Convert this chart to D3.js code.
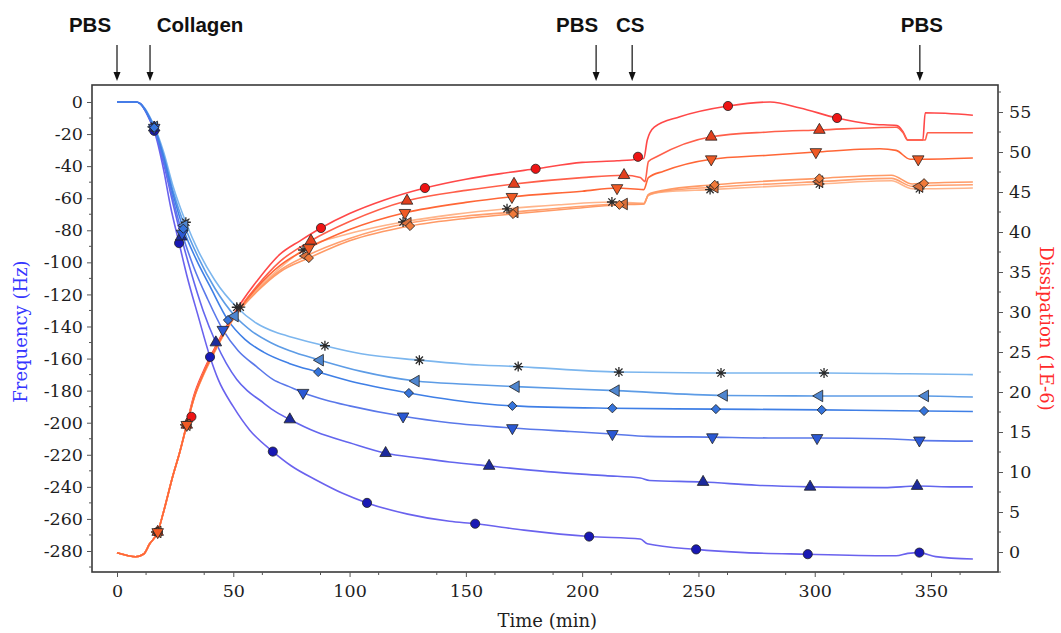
<!DOCTYPE html>
<html><head><meta charset="utf-8">
<script src="https://cdn.jsdelivr.net/npm/d3@7"></script>
<style>body{margin:0;background:#fff}svg{display:block}</style>
</head><body><svg id="c" width="1061" height="633"></svg>
<script>
// ---------------- DATA ----------------
const timeTicks = [0, 50, 100, 150, 200, 250, 300, 350];
const freqTicks = [0, -20, -40, -60, -80, -100, -120, -140, -160, -180, -200, -220, -240, -260, -280];
const dissTicks = [0, 5, 10, 15, 20, 25, 30, 35, 40, 45, 50, 55];

const eventLabels = ["PBS", "Collagen", "PBS", "CS", "PBS"];
const eventTimes = [0, 14.2, 206, 221.5, 345.2];

// Frequency (Hz) vs time (min)
const freqCircle = [[0,0],[8,0],[10,-1],[12,-5],[14,-11],[16,-18],[20,-42],[23,-65],[26.7,-88],[30,-108],[35,-134],[40,-159],[43.5,-173],[50,-190],[57,-204.5],[67,-218],[75,-227],[86,-236],[97,-244],[107.5,-250],[125,-257],[143,-261.5],[154,-263],[175,-267],[203,-271],[225,-272.5],[228,-275.5],[249,-279],[270,-281],[297,-282],[335,-283],[340,-281.5],[345,-281],[352,-283.5],[368,-285]];
const freqTriUp = [[0,0],[8,0],[10,-1],[12,-5],[14,-10.5],[16,-17],[20,-38],[24,-63],[27.6,-84],[32,-107],[37,-130],[42.5,-150],[47,-163],[51.5,-173],[56,-180],[61.5,-186],[67,-192],[74.3,-198],[86,-206],[100,-212.5],[115.5,-219],[130,-222],[143,-224.5],[160,-227],[185,-230.5],[210,-233],[225,-234.5],[229,-236],[252,-237],[275,-239],[298,-240],[330,-240.5],[344,-239.5],[360,-240],[368,-240]];
const freqTriDown = [[0,0],[8,0],[10,-1],[12,-5],[14,-10],[16,-16.5],[20,-36],[24,-60],[28,-82],[33,-103],[39,-123],[45.5,-142],[52,-155],[60,-165],[67,-173],[74,-177.5],[80,-181.3],[90,-186],[100,-189.5],[123,-196],[143,-200],[170,-203.3],[195,-205.5],[213,-207],[228,-208.5],[256,-209],[280,-209.5],[301,-209.5],[330,-210],[345,-211],[368,-211.5]];
const freqDiamond = [[0,0],[8,0],[10,-1],[12,-4.5],[14,-10],[16,-16],[20,-34],[24,-57],[28.5,-79],[34,-98],[40,-115],[47.7,-136],[55,-148],[63,-156],[74,-163],[86.5,-168.4],[100,-174],[125.5,-181.5],[145,-186],[170,-189.5],[213,-191],[257.5,-191.5],[303,-192],[347,-192.7],[368,-193]];
const freqTriLeft = [[0,0],[8,0],[10,-1],[12,-4.5],[14,-9.5],[16,-15.5],[20,-33],[24,-55],[29,-77],[35,-97],[42,-116],[50.7,-133.5],[58,-143],[66,-150],[74,-155],[87.3,-161],[105,-168],[128.5,-174],[150,-176],[171.5,-177.5],[214.5,-180],[261,-183],[302,-183.3],[347.5,-183.3],[368,-184]];
const freqStar = [[0,0],[8,0],[10,-1],[12,-4],[14,-9],[16,-15],[20,-31],[24,-52],[29.6,-75],[35,-93],[42,-111],[51.5,-128],[60,-138],[68,-143.5],[76,-147],[89.4,-152],[105,-157],[130,-161],[150,-163.5],[172.5,-165],[215.8,-168.4],[259.7,-169],[304,-169],[340,-169.5],[368,-170]];

const freqCircleMarks = [[16,-18],[26.7,-88],[40,-159],[67,-218],[107.5,-250],[154,-263],[203,-271],[249,-279],[297,-282],[345,-281]];
const freqTriUpMarks = [[16,-16],[27.6,-84],[42.5,-150],[74.3,-198],[115.5,-219],[160,-227],[252,-237],[298,-240],[344,-239.5]];
const freqTriDownMarks = [[16,-16],[28,-82],[45.5,-142],[80,-181.3],[123,-196],[170,-203.3],[213,-207],[256,-209],[301,-209.5],[345,-211]];
const freqDiamondMarks = [[16,-16],[28.5,-79],[47.7,-136],[86.5,-168.4],[125.5,-181.5],[170,-189.5],[213,-191],[257.5,-191.5],[303,-192],[347,-192.7]];
const freqTriLeftMarks = [[16,-15.5],[29,-77],[50.7,-133.5],[87.3,-161],[128.5,-174],[171.5,-177.5],[214.5,-180],[261,-183],[302,-183.3],[347.5,-183.3]];
const freqStarMarks = [[16,-15],[29.6,-75],[51.5,-128],[89.4,-152],[130,-161],[172.5,-165],[215.8,-168.4],[259.7,-169],[304,-169]];

// Dissipation (1E-6) vs time (min)
const dissCircle = [[0,-0.1],[4,-0.4],[8,-0.6],[11.5,-0.25],[14,1],[17.5,2.5],[20,5],[24,9.5],[27,12.5],[30,16],[33,19.5],[37,22.5],[42,25.5],[47,28.2],[53,31],[60,33.8],[70,37.2],[78.7,38.9],[87.7,40.5],[100,42.3],[115,44],[132.4,45.5],[150,46.6],[165,47.3],[180,47.9],[200,48.7],[215,48.9],[224,49.1],[226.5,49.2],[228,51.5],[231,53.1],[242,54.4],[262.7,55.75],[280.8,56.25],[293.7,55.5],[309.6,54.25],[323.8,53.5],[335.4,53.3],[338,52.5],[340,51.5],[346.5,51.5],[347.5,54.9],[368,54.6]];
const dissTriUp = [[0,-0.1],[4,-0.4],[8,-0.6],[11.5,-0.25],[14,1],[17.5,2.5],[20,5],[24,9.5],[27,12.5],[30,15.9],[33,19.3],[37,22.3],[42,25.3],[47,28],[53,30.6],[60,33.2],[70,36.3],[83.4,38.9],[100,41.3],[124.7,43.9],[150,45.2],[170.7,46],[200,46.8],[218,47.1],[225,46.8],[227,46.3],[228.5,48.8],[232,49.4],[255.5,51.9],[280,52.5],[302,52.75],[335,53.1],[338,52.4],[340,51.5],[347.5,51.5],[348.5,52.4],[368,52.4]];
const dissTriDown = [[0,-0.1],[4,-0.4],[8,-0.6],[11.5,-0.25],[14,1],[17.5,2.5],[20,5],[24,9.5],[27,12.5],[30,15.9],[33,19.2],[37,22.2],[42,25.2],[47,27.9],[53,30.5],[60,33],[70,35.8],[82.5,38],[100,40.3],[123.8,42.4],[150,43.7],[169.8,44.4],[200,45.1],[215,45.5],[226.5,45.3],[228.5,46.8],[235,47.6],[255.5,49.1],[280,49.6],[300.5,50],[328,50.4],[335,50.2],[341,49.1],[344.5,49.1],[368,49.25]];
const dissDiamond = [[0,-0.1],[4,-0.4],[8,-0.6],[11.5,-0.25],[14,1],[17.5,2.5],[20,5],[24,9.5],[27,12.5],[30,15.9],[33,19.1],[37,22],[42,25],[47,27.7],[53,30.3],[60,32.5],[70,35],[82.5,36.75],[100,38.9],[126,40.75],[150,41.7],[170.3,42.25],[195,42.9],[216,43.4],[226.5,43.5],[228.5,44.7],[235,45.2],[257,45.9],[302,46.7],[333,47.1],[342,46],[347,46.1],[368,46.25]];
const dissTriLeft = [[0,-0.1],[4,-0.4],[8,-0.6],[11.5,-0.25],[14,1],[17.5,2.5],[20,5],[24,9.5],[27,12.5],[30,15.9],[33,19.1],[37,22.1],[42,25.1],[47,27.8],[53,30.4],[60,32.6],[70,35.2],[81.3,37],[100,39.2],[125,41.1],[150,42],[171,42.5],[195,43.1],[218,43.5],[226.5,43.5],[228.5,44.6],[235,45.1],[257,45.6],[302,46.3],[333,46.7],[342,45.7],[347,45.8],[368,45.9]];
const dissStar = [[0,-0.1],[4,-0.4],[8,-0.6],[11.5,-0.25],[14,1],[17.5,2.5],[20,5],[24,9.5],[27,12.5],[30,15.9],[33,19.2],[37,22.2],[42,25.2],[47,28],[53,30.6],[60,32.8],[70,35.5],[80,37.75],[100,39.8],[123,41.25],[145,42.2],[167.7,42.9],[190,43.4],[212.8,43.75],[226.5,43.6],[228.5,44.6],[235,45],[255,45.3],[302,46],[333,46.4],[342,45.4],[345,45.4],[368,45.5]];

const dissCircleMarks = [[17.5,2.5],[32,16.9],[87.7,40.5],[132.4,45.5],[180,47.9],[224,49.4],[262.7,55.75],[309.6,54.25]];
const dissTriUpMarks = [[17.5,2.5],[30,15.9],[83.4,38.9],[124.7,43.9],[170.7,46],[218,47.1],[255.5,51.9],[302,52.75]];
const dissTriDownMarks = [[17.5,2.5],[30,15.9],[82.5,38],[123.8,42.4],[169.8,44.4],[215,45.5],[255.5,49.1],[300.5,50],[344.5,49.1]];
const dissDiamondMarks = [[17.5,2.5],[30,15.9],[82.5,36.75],[126,40.75],[170.3,42.25],[216,43.4],[257,45.9],[302,46.7],[347,46.1]];
const dissTriLeftMarks = [[17.5,2.5],[30,15.9],[81.3,37],[125,41.1],[171,42.5],[218,43.5],[257,45.6],[302,46.3],[345,45.7]];
const dissStarMarks = [[17.5,2.5],[30,15.9],[53,30.6],[80,37.75],[123,41.25],[167.7,42.9],[212.8,43.75],[255,45.3],[302,46],[345,45.4]];

// ---------------- LAYOUT / STYLE ----------------
const L = 92, R = 998, T = 85, B = 572;
const svg = d3.select("#c");

const x = d3.scaleLinear().domain([-10.75, 378.8]).range([L, R]);
const yF = d3.scaleLinear().domain([-293.1, 10.6]).range([B, T]);
const yD = d3.scaleLinear().domain([-2.5, 58.375]).range([B, T]);

const serif = "'DejaVu Serif', serif";
const sans = "'Liberation Sans', Arial, sans-serif";

const symTri = d3.symbol().type(d3.symbolTriangle).size(58)();
const symCirc = d3.symbol().type(d3.symbolCircle).size(66)();
const symSq = d3.symbol().type(d3.symbolSquare).size(42)();
const starPath = "M-5,0H5M0,-5V5M-3.6,-3.6L3.6,3.6M-3.6,3.6L3.6,-3.6";

const shapes = {
  circle: {d: symCirc, rot: 0},
  up: {d: symTri, rot: 0},
  down: {d: symTri, rot: 180},
  diamond: {d: symSq, rot: 45},
  left: {d: symTri, rot: -90},
  star: {d: starPath, rot: 0, stroke: true}
};

// drawing order chosen so overlapped early segments show the mid-tone colour
const freqSeries = [
  {data: freqStar, marks: freqStarMarks, shape: "star", line: "#7cb6ee", fill: "#333"},
  {data: freqTriLeft, marks: freqTriLeftMarks, shape: "left", line: "#5d9ce6", fill: "#4f86d0"},
  {data: freqCircle, marks: freqCircleMarks, shape: "circle", line: "#6a62ee", fill: "#1818b4"},
  {data: freqTriUp, marks: freqTriUpMarks, shape: "up", line: "#6366ee", fill: "#1c2a9c"},
  {data: freqTriDown, marks: freqTriDownMarks, shape: "down", line: "#5a78ea", fill: "#2a58d4"},
  {data: freqDiamond, marks: freqDiamondMarks, shape: "diamond", line: "#3f7fe6", fill: "#3574dc"}
];
const dissSeries = [
  {data: dissCircle, marks: dissCircleMarks, shape: "circle", line: "#ff4848", fill: "#ee1414"},
  {data: dissTriUp, marks: dissTriUpMarks, shape: "up", line: "#ff5f4a", fill: "#e2401e"},
  {data: dissStar, marks: dissStarMarks, shape: "star", line: "#ffb48a", fill: "#333"},
  {data: dissTriLeft, marks: dissTriLeftMarks, shape: "left", line: "#ffa070", fill: "#d8703c"},
  {data: dissDiamond, marks: dissDiamondMarks, shape: "diamond", line: "#ff9a66", fill: "#f07a3a"},
  {data: dissTriDown, marks: dissTriDownMarks, shape: "down", line: "#ff6636", fill: "#f05a24"}
];

// ---------------- LINES ----------------
const gLines = svg.append("g");
const lineF = d3.line().x(d => x(d[0])).y(d => yF(d[1])).curve(d3.curveMonotoneX);
const lineD = d3.line().x(d => x(d[0])).y(d => yD(d[1])).curve(d3.curveMonotoneX);

freqSeries.forEach(s => {
  gLines.append("path").attr("d", lineF(s.data)).attr("fill", "none")
    .attr("stroke", s.line).attr("stroke-width", 1.6);
});
dissSeries.forEach(s => {
  gLines.append("path").attr("d", lineD(s.data)).attr("fill", "none")
    .attr("stroke", s.line).attr("stroke-width", 1.6);
});

// ---------------- MARKERS ----------------
function drawMarks(series, yScale) {
  series.forEach(s => {
    const sh = shapes[s.shape];
    svg.append("g").selectAll("path").data(s.marks).join("path")
      .attr("d", sh.d)
      .attr("transform", d => `translate(${x(d[0])},${yScale(d[1])}) rotate(${sh.rot})`)
      .attr("fill", sh.stroke ? "none" : s.fill)
      .attr("stroke", sh.stroke ? "#2a2a2a" : "#222")
      .attr("stroke-width", sh.stroke ? 1.3 : 0.8);
  });
}
drawMarks(freqSeries, yF);
drawMarks(dissSeries, yD);

// ---------------- FRAME & AXES ----------------
svg.append("rect").attr("x", L).attr("y", T).attr("width", R - L).attr("height", B - T)
  .attr("fill", "none").attr("stroke", "#3a3a3a").attr("stroke-width", 1.6);

function minorTicks(g, positions, orient, len) {
  g.selectAll("line.m").data(positions).join("line").attr("class", "m")
    .attr("stroke", "#555").attr("stroke-width", 1)
    .each(function(p) {
      const el = d3.select(this);
      if (orient === "left") el.attr("x1", L).attr("x2", L - len).attr("y1", p).attr("y2", p);
      if (orient === "right") el.attr("x1", R).attr("x2", R + len).attr("y1", p).attr("y2", p);
      if (orient === "bottom") el.attr("y1", B).attr("y2", B + len).attr("x1", p).attr("x2", p);
    });
}

const axL = svg.append("g").attr("transform", `translate(${L},0)`)
  .call(d3.axisLeft(yF).tickValues(freqTicks).tickFormat(d => String(d)).tickSize(5).tickPadding(4));
const axB = svg.append("g").attr("transform", `translate(0,${B})`)
  .call(d3.axisBottom(x).tickValues(timeTicks).tickFormat(d => String(d)).tickSize(5).tickPadding(8));
const axR = svg.append("g").attr("transform", `translate(${R},0)`)
  .call(d3.axisRight(yD).tickValues(dissTicks).tickFormat(d => String(d)).tickSize(5).tickPadding(6));

[axL, axB, axR].forEach(a => {
  a.select(".domain").remove();
  a.selectAll(".tick line").attr("stroke", "#555");
  a.selectAll("text").attr("font-family", serif).attr("font-size", 17.5).attr("fill", "#1e1e1e");
});

const mg = svg.append("g");
minorTicks(mg.append("g"), d3.range(-290, 10, 10).filter(v => v % 20 !== 0).map(v => yF(v)), "left", 3);
minorTicks(mg.append("g"), d3.range(12.5, 378, 25).map(v => x(v)), "bottom", 3);
minorTicks(mg.append("g"), d3.range(-2.5, 58, 5).map(v => yD(v)), "right", 3);

// axis titles
svg.append("text").attr("transform", `translate(27,${(T + B) / 2 + 3}) rotate(-90)`)
  .attr("text-anchor", "middle").attr("font-family", serif).attr("font-size", 18)
  .attr("fill", "#3636ff").text("Frequency (Hz)");
svg.append("text").attr("transform", `translate(1040,${(T + B) / 2}) rotate(90)`)
  .attr("text-anchor", "middle").attr("font-family", serif).attr("font-size", 18)
  .attr("fill", "#ff2a2a").text("Dissipation (1E-6)");
svg.append("text").attr("x", x(185)).attr("y", 627)
  .attr("text-anchor", "middle").attr("font-family", serif).attr("font-size", 18)
  .attr("fill", "#1e1e1e").text("Time (min)");

// ---------------- EVENT ANNOTATIONS ----------------
const labelDx = [-27, 50, -19, -2, 2];
const gEv = svg.append("g");
eventTimes.forEach((t, i) => {
  const xp = x(t);
  gEv.append("line").attr("x1", xp).attr("x2", xp).attr("y1", 45).attr("y2", 74)
    .attr("stroke", "#111").attr("stroke-width", 1.2);
  gEv.append("path").attr("d", `M${xp - 3.5},${72} L${xp + 3.5},${72} L${xp},${81} Z`).attr("fill", "#111");
  gEv.append("text").attr("x", xp + labelDx[i]).attr("y", 32)
    .attr("text-anchor", "middle").attr("font-family", sans).attr("font-weight", "bold")
    .attr("font-size", 20.5).attr("fill", "#111").text(eventLabels[i]);
});
</script>
</body></html>
